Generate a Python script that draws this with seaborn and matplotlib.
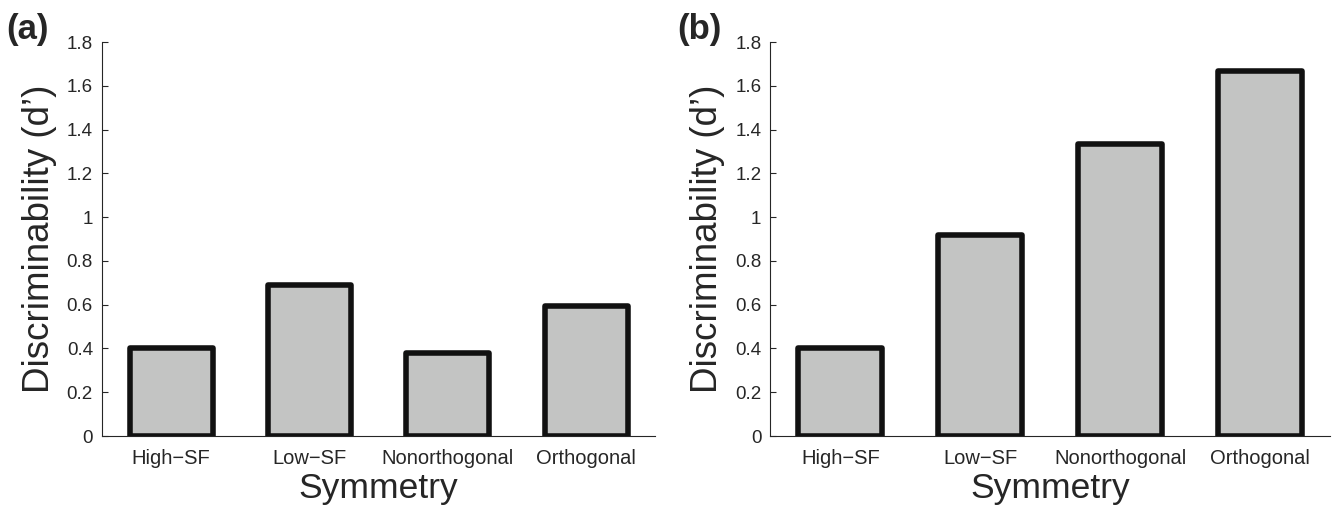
import pandas as pd
import matplotlib
matplotlib.use("Agg")
import matplotlib.pyplot as plt
import matplotlib.ticker as mticker
import seaborn as sns

conditions = ["High\u2212SF", "Low\u2212SF", "Nonorthogonal", "Orthogonal"]
dprime_a = [0.40, 0.69, 0.38, 0.595]
dprime_b = [0.40, 0.92, 1.335, 1.67]
panel_labels = ["(a)", "(b)"]

sns.set_style("ticks")
plt.rcParams["font.family"] = ["Liberation Sans", "DejaVu Sans"]

fig = plt.figure(figsize=(13.33, 5.07), dpi=100)
ax_a = fig.add_axes([0.0765, 0.14, 0.415, 0.777])
ax_b = fig.add_axes([0.578, 0.14, 0.42, 0.777])

for ax, vals in zip([ax_a, ax_b], [dprime_a, dprime_b]):
    df = pd.DataFrame({"Symmetry": conditions, "dprime": vals})
    sns.barplot(data=df, x="Symmetry", y="dprime", ax=ax, color="#c3c4c3",
                saturation=1, width=0.6, edgecolor="#111111", linewidth=4)
    for p in ax.patches:
        p.set_joinstyle("round")
    ax.set_xlim(-0.5, 3.5)
    ax.set_ylim(0, 1.8)
    ax.set_yticks([0, 0.2, 0.4, 0.6, 0.8, 1.0, 1.2, 1.4, 1.6, 1.8])
    ax.yaxis.set_major_formatter(mticker.FuncFormatter(lambda v, p: "%g" % round(v, 1)))
    ax.tick_params(axis="y", direction="in", length=4.5, width=0.8, labelsize=13.5, pad=6.5)
    ax.tick_params(axis="x", length=0, labelsize=14.5, pad=9)
    ax.set_xlabel("Symmetry", fontsize=25.5, labelpad=3)
    ax.set_ylabel("Discriminability (d\u2019)", fontsize=26.5, labelpad=7)
    for side in ["top", "right"]:
        ax.spines[side].set_visible(False)
    ax.spines["left"].set_linewidth(0.8)
    ax.spines["bottom"].set_linewidth(0.8)

fig.text(6 / 1333, 1 - 29 / 507, panel_labels[0], fontsize=25, fontweight="bold",
         va="center", ha="left")
fig.text(677 / 1333, 1 - 29 / 507, panel_labels[1], fontsize=25, fontweight="bold",
         va="center", ha="left")

fig.savefig("out.png", dpi=100)
